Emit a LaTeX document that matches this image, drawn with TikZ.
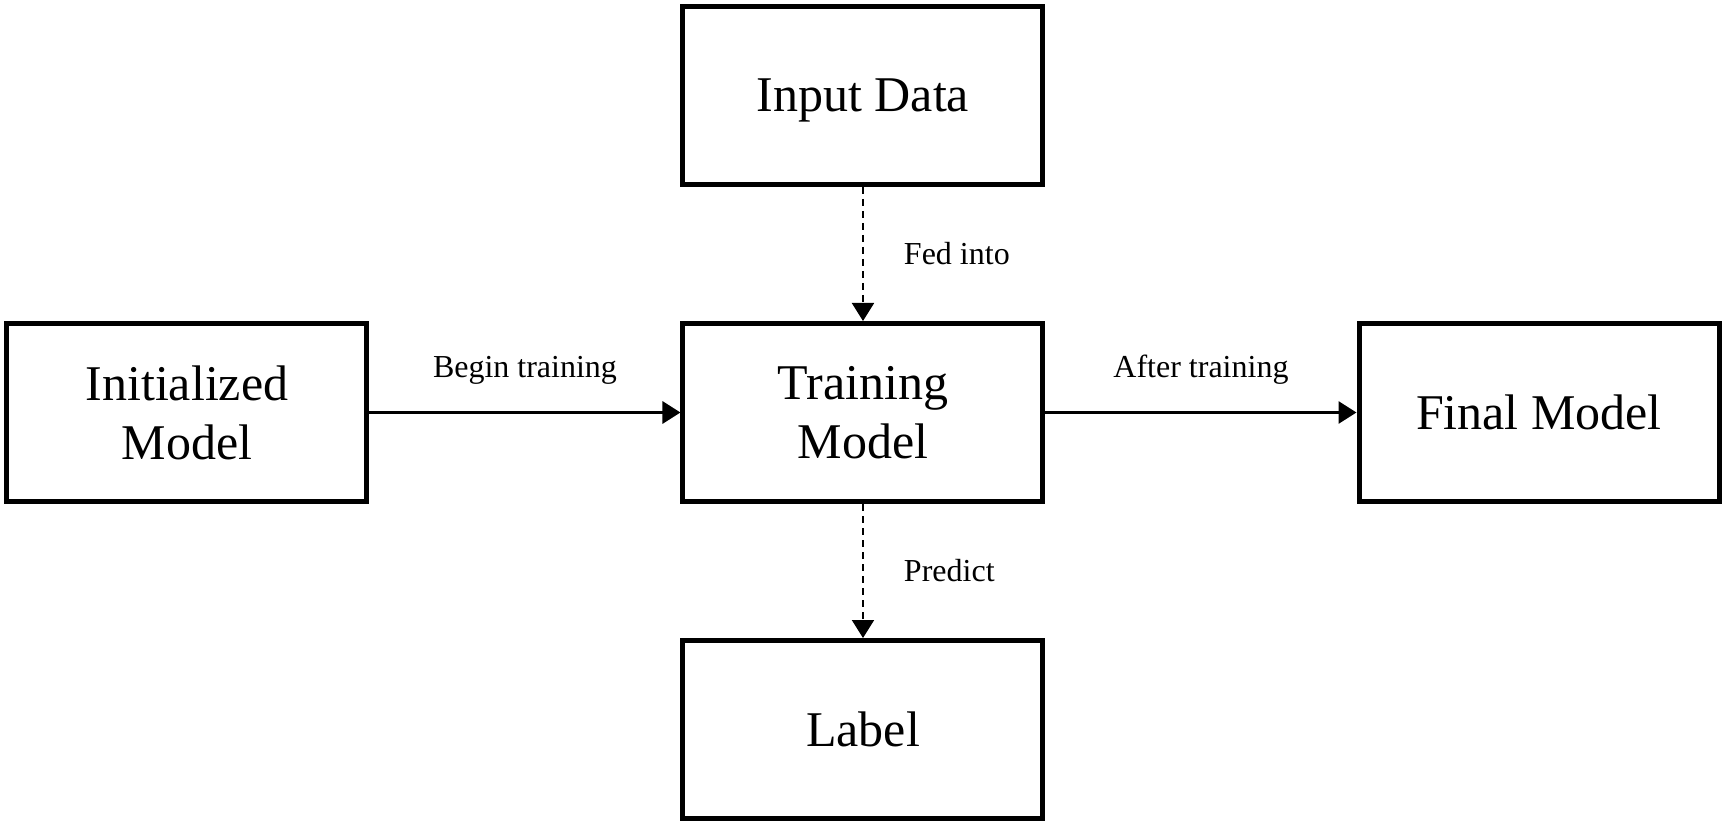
\documentclass[tikz,border=0pt]{standalone}
\usepackage{fontspec}
\setmainfont{Liberation Serif}
\usepackage{xcolor}
\definecolor{cMain}{HTML}{000000}
\usepackage{tikz}
\usetikzlibrary{positioning,arrows.meta}
\tikzset{
  node-box/.style={draw=cMain,line width=2.5pt,minimum width=180pt,
    minimum height=89pt,align=center,text depth=0pt,
    font=\fontsize{25}{29.5}\selectfont},
  edge-label/.style={font=\fontsize{16}{19}\selectfont,inner sep=0pt},
  arrow/.style={-{Triangle[length=9pt,width=11pt]},line width=1.5pt,draw=cMain},
  arrow-async/.style={-{Triangle[length=9pt,width=11pt]},line width=1pt,
    dash pattern=on 3.5pt off 2.5pt,draw=cMain},
}

\begin{document}
\begin{tikzpicture}[node distance=67pt and 155.5pt]
  \useasboundingbox (-431.5pt,-206.25pt) rectangle (431pt,206.25pt);
  % 中间的训练模型
  \node[node-box] (train) at (0,0) {Training\\Model};
  % 四周
  \node[node-box,above=of train] (input) {Input Data};
  \node[node-box,below=of train] (label) {Label};
  \node[node-box,left=of train]  (init)  {Initialized\\Model};
  \node[node-box,right=of train] (final) {Final Model};
  % 箭头与边上的说明
  \draw[arrow]       (init)  -- node[edge-label,midway,anchor=base,yshift=17.5pt]
    {Begin training} (train);
  \draw[arrow]       (train) -- node[edge-label,midway,anchor=base,yshift=17.5pt]
    {After training} (final);
  \draw[arrow-async] (input) -- node[edge-label,midway,anchor=west,xshift=20pt]
    {Fed into} (train);
  \draw[arrow-async] (train) -- node[edge-label,midway,anchor=west,xshift=20pt]
    {Predict} (label);
\end{tikzpicture}
\end{document}
